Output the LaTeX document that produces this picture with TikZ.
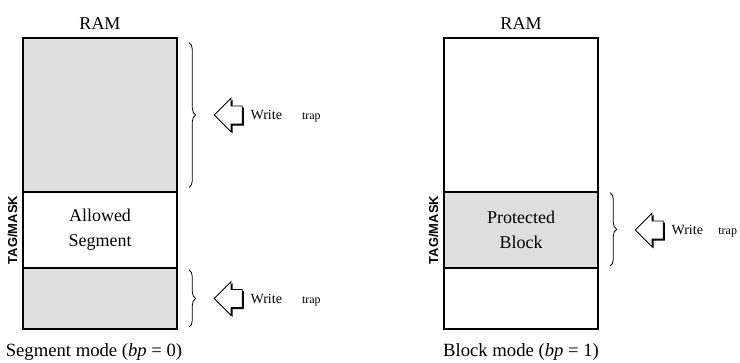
\documentclass[tikz,border=0pt]{standalone}
\usepackage{fontspec}
\setmainfont{Liberation Serif}
\newfontfamily\tagfont{Liberation Sans}
\usetikzlibrary{positioning,shapes.arrows,shadows,decorations.pathreplacing}
\definecolor{lockgray}{RGB}{222,222,222}
\tikzset{
  seg/.style={draw,line width=1.5pt,outer sep=0pt,inner sep=0pt,minimum width=115.5pt,
    align=center,font=\fontsize{13.5}{19}\selectfont},
  lockseg/.style={seg,fill=lockgray},
  brc/.style={decorate,decoration={brace,amplitude=5pt},line width=0.6pt},
  wrarrow/.style={single arrow,draw,fill=white,line width=0.6pt,shape border rotate=180,
    minimum height=21pt,inner xsep=0pt,inner ysep=6.4pt,single arrow head extend=5.8pt,
    general shadow={fill=black,shadow xshift=1.2pt,shadow yshift=-1.2pt}},
  tag/.style={rotate=90,font=\tagfont\bfseries\fontsize{9.7}{11}\selectfont,inner sep=1pt},
  lbl/.style={font=\fontsize{13.5}{16}\selectfont},
  modecap/.style={font=\fontsize{14}{17}\selectfont},
  wr/.style={font=\fontsize{10.5}{12}\selectfont},
  trp/.style={font=\fontsize{9}{10}\selectfont},
}

\begin{document}
\begin{tikzpicture}[x=0.75pt,y=-0.75pt]
  \useasboundingbox (0,0) rectangle (740,362);
  % segment mode
  \node[lockseg,minimum height=115.5pt] (lt) at (100,115) {};
  \node[seg,below=0pt of lt,minimum height=57pt] (lm) {Allowed\\Segment};
  \node[lockseg,below=0pt of lm,minimum height=45.75pt] (lb) {};
  \node[lbl,above=3pt of lt] (lram) {RAM};
  \node[tag,anchor=south] (ltag) at ([xshift=-3pt]lm.west) {TAG/MASK};
  \node[modecap,below=7pt of lb,xshift=-4.5pt] (lcap) {Segment mode (\textit{bp} = 0)};
  \draw[brc] ([xshift=9pt,yshift=-3.5pt]lt.north east) -- ([xshift=9pt,yshift=3.5pt]lt.south east);
  \draw[brc] ([xshift=9pt,yshift=-1.5pt]lb.north east) -- ([xshift=9pt,yshift=1.5pt]lb.south east);
  \coordinate (ltip) at ([xshift=14pt]lt.east);
  \coordinate (btip) at ([xshift=14pt]lb.east);
  \node[wrarrow,anchor=tip] (lwa) at ([xshift=13.5pt]ltip) {};
  \node[wr,right=2.5pt of lwa.tail] (lwr) {Write};
  \node[trp,base right=8pt of lwr] (ltr) {trap};
  \node[wrarrow,anchor=tip] (bwa) at ([xshift=13.5pt]btip) {};
  \node[wr,right=2.5pt of bwa.tail] (bwr) {Write};
  \node[trp,base right=8pt of bwr] (btr) {trap};
  % block mode
  \node[seg,minimum height=115.5pt] (rt) at (521,115) {};
  \node[lockseg,below=0pt of rt,minimum height=57pt] (rm) {Protected\\Block};
  \node[seg,below=0pt of rm,minimum height=45.75pt] (rb) {};
  \node[lbl,above=3pt of rt] (rram) {RAM};
  \node[tag,anchor=south] (rtag) at ([xshift=-3pt]rm.west) {TAG/MASK};
  \node[modecap,below=7pt of rb] (rcap) {Block mode (\textit{bp} = 1)};
  \draw[brc] ([xshift=9pt,yshift=-0.5pt]rm.north east) -- ([xshift=9pt,yshift=1.5pt]rm.south east);
  \coordinate (rtip) at ([xshift=14pt]rm.east);
  \node[wrarrow,anchor=tip] (rwa) at ([xshift=13.5pt]rtip) {};
  \node[wr,right=2.5pt of rwa.tail] (rwr) {Write};
  \node[trp,base right=4.5pt of rwr] (rtr) {trap};
\end{tikzpicture}
\end{document}
